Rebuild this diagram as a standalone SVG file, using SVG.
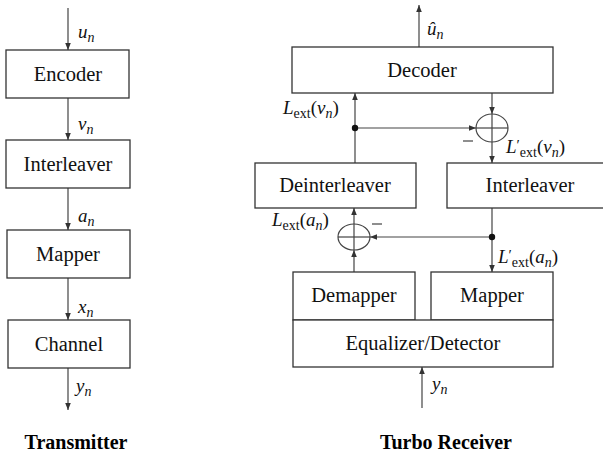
<svg xmlns="http://www.w3.org/2000/svg" width="603" height="454" viewBox="0 0 603 454" font-family="Liberation Serif, serif">
<style>
.box{fill:#fff;stroke:#333;stroke-width:1.3}
.ln{fill:none;stroke:#444;stroke-width:1.2}
.t{font-size:20.5px;fill:#111;text-anchor:middle}
.m{font-size:19px;font-style:italic;fill:#111}
.up{font-style:normal}
.ti{font-size:20px;font-weight:bold;fill:#000;text-anchor:middle}
</style>
<defs>
<marker id="ah" viewBox="0 0 10 10" refX="10" refY="5" markerWidth="7" markerHeight="7" markerUnits="userSpaceOnUse" orient="auto">
<path d="M0,1 L10,5 L0,9 Z" fill="#333"/>
</marker>
</defs>
<rect width="603" height="454" fill="#fff"/>
<g id="connectors">
<line class="ln" x1="68" y1="8" x2="68" y2="50" marker-end="url(#ah)"/>
<line class="ln" x1="68" y1="98" x2="68" y2="140" marker-end="url(#ah)"/>
<line class="ln" x1="68" y1="188" x2="68" y2="230" marker-end="url(#ah)"/>
<line class="ln" x1="68" y1="278" x2="68" y2="320" marker-end="url(#ah)"/>
<line class="ln" x1="68" y1="368" x2="68" y2="410" marker-end="url(#ah)"/>
<line class="ln" x1="419" y1="47" x2="419" y2="5" marker-end="url(#ah)"/>
<line class="ln" x1="355" y1="163" x2="355" y2="93" marker-end="url(#ah)"/>
<line class="ln" x1="355" y1="128" x2="476" y2="128" marker-end="url(#ah)"/>
<line class="ln" x1="492" y1="93" x2="492" y2="114" marker-end="url(#ah)"/>
<line class="ln" x1="492" y1="142" x2="492" y2="163" marker-end="url(#ah)"/>
<line class="ln" x1="492" y1="208" x2="492" y2="272" marker-end="url(#ah)"/>
<line class="ln" x1="492" y1="237" x2="370" y2="237" marker-end="url(#ah)"/>
<line class="ln" x1="354" y1="272" x2="354" y2="250" marker-end="url(#ah)"/>
<line class="ln" x1="354" y1="224" x2="354" y2="208" marker-end="url(#ah)"/>
<line class="ln" x1="422" y1="408" x2="422" y2="367" marker-end="url(#ah)"/>
<circle cx="355" cy="128" r="3.2" fill="#111"/>
<circle cx="492" cy="237" r="3.2" fill="#111"/>
</g>
<g id="sum1">
<ellipse class="ln" cx="492" cy="128" rx="16" ry="14"/>
<line class="ln" x1="476" y1="128" x2="508" y2="128"/>
<line class="ln" x1="492" y1="114" x2="492" y2="142"/>
<line class="ln" x1="463" y1="141" x2="473" y2="141"/>
</g>
<g id="sum2">
<ellipse class="ln" cx="354" cy="237" rx="16" ry="13"/>
<line class="ln" x1="338" y1="237" x2="370" y2="237"/>
<line class="ln" x1="354" y1="224" x2="354" y2="250"/>
<line class="ln" x1="372" y1="224" x2="382" y2="224"/>
</g>
<g id="encoder"><rect class="box" x="6" y="50" width="123" height="48"/><text class="t" x="68" y="81">Encoder</text></g>
<g id="interleaver-tx"><rect class="box" x="6" y="140" width="124" height="48"/><text class="t" x="68" y="171">Interleaver</text></g>
<g id="mapper-tx"><rect class="box" x="7" y="230" width="123" height="48"/><text class="t" x="68" y="261">Mapper</text></g>
<g id="channel"><rect class="box" x="8" y="320" width="122" height="48"/><text class="t" x="69" y="351">Channel</text></g>
<g id="decoder"><rect class="box" x="292" y="47" width="261" height="46"/><text class="t" x="422" y="77">Decoder</text></g>
<g id="deinterleaver"><rect class="box" x="255" y="163" width="161" height="45"/><text class="t" x="335" y="192">Deinterleaver</text></g>
<g id="interleaver-rx"><rect class="box" x="447" y="163" width="160" height="45"/><text class="t" x="530" y="192">Interleaver</text></g>
<g id="demapper"><rect class="box" x="293" y="272" width="122" height="48"/><text class="t" x="354" y="302">Demapper</text></g>
<g id="mapper-rx"><rect class="box" x="431" y="272" width="122" height="48"/><text class="t" x="492" y="302">Mapper</text></g>
<g id="equalizer"><rect class="box" x="293" y="320" width="260" height="47"/><text class="t" x="423" y="350">Equalizer/Detector</text></g>
<g id="labels">
<text class="m" x="78" y="38">u<tspan font-size="14" dy="4">n</tspan></text>
<text class="m" x="78" y="130">v<tspan font-size="14" dy="4">n</tspan></text>
<text class="m" x="78" y="222">a<tspan font-size="14" dy="4">n</tspan></text>
<text class="m" x="78" y="313">x<tspan font-size="14" dy="4">n</tspan></text>
<text class="m" x="76" y="392">y<tspan font-size="14" dy="4">n</tspan></text>
<text class="m" x="427" y="35">û<tspan font-size="14" dy="4">n</tspan></text>
<text class="m" x="432" y="390">y<tspan font-size="14" dy="4">n</tspan></text>
<text class="m" x="283" y="114">L<tspan class="up" font-size="14" dy="4">ext</tspan><tspan class="up" dy="-4">(</tspan>v<tspan font-size="14" dy="4">n</tspan><tspan class="up" dy="-4">)</tspan></text>
<text class="m" x="506" y="153">L<tspan class="up" font-size="15" dy="-3">′</tspan><tspan class="up" font-size="14" dy="7">ext</tspan><tspan class="up" dy="-4">(</tspan>v<tspan font-size="14" dy="4">n</tspan><tspan class="up" dy="-4">)</tspan></text>
<text class="m" x="272" y="226">L<tspan class="up" font-size="14" dy="4">ext</tspan><tspan class="up" dy="-4">(</tspan>a<tspan font-size="14" dy="4">n</tspan><tspan class="up" dy="-4">)</tspan></text>
<text class="m" x="498" y="263">L<tspan class="up" font-size="15" dy="-3">′</tspan><tspan class="up" font-size="14" dy="7">ext</tspan><tspan class="up" dy="-4">(</tspan>a<tspan font-size="14" dy="4">n</tspan><tspan class="up" dy="-4">)</tspan></text>
</g>
<g id="titles">
<text class="ti" x="76" y="449">Transmitter</text>
<text class="ti" x="446" y="449">Turbo Receiver</text>
</g>
</svg>
